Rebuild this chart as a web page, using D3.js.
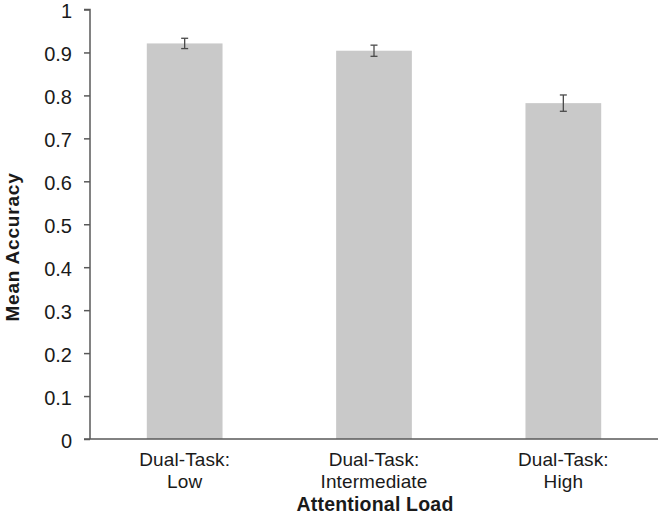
<!DOCTYPE html>
<html>
<head>
<meta charset="utf-8">
<script src="https://cdn.jsdelivr.net/npm/d3@7"></script>
<style>
  body { margin: 0; background: #fff; }
  text { font-family: "Liberation Sans", Arial, sans-serif; fill: #1a1a1a; }
</style>
</head>
<body>
<svg id="chart" width="662" height="515"></svg>
<script>
const categories = ['Dual-Task:\nLow', 'Dual-Task:\nIntermediate', 'Dual-Task:\nHigh'];
const means = [0.921, 0.904, 0.782];
const errors = [0.012, 0.013, 0.019];
const yTicks = [0, 0.1, 0.2, 0.3, 0.4, 0.5, 0.6, 0.7, 0.8, 0.9, 1];

const data = categories.map((c, i) => ({ cat: c, mean: means[i], err: errors[i] }));

const svg = d3.select('#chart');
const mLeft = 90, mRight = 658, mTop = 9.5, mBottom = 439;

const x = d3.scaleBand()
  .domain(categories)
  .range([mLeft, mRight])
  .paddingInner(0.6)
  .paddingOuter(0.3);

const y = d3.scaleLinear().domain([0, 1]).range([mBottom, mTop]);

// bars
svg.append('g')
  .selectAll('rect')
  .data(data)
  .enter()
  .append('rect')
  .attr('x', d => x(d.cat))
  .attr('y', d => y(d.mean))
  .attr('width', x.bandwidth())
  .attr('height', d => y(0) - y(d.mean))
  .attr('fill', '#c9c9c9');

// error bars
const eb = svg.append('g')
  .attr('stroke', '#4a4a4a')
  .attr('stroke-width', 1.3)
  .selectAll('g')
  .data(data)
  .enter()
  .append('g');

eb.append('line')
  .attr('x1', d => x(d.cat) + x.bandwidth() / 2)
  .attr('x2', d => x(d.cat) + x.bandwidth() / 2)
  .attr('y1', d => y(d.mean + d.err))
  .attr('y2', d => y(d.mean - d.err));

[1, -1].forEach(s => {
  eb.append('line')
    .attr('x1', d => x(d.cat) + x.bandwidth() / 2 - 3.5)
    .attr('x2', d => x(d.cat) + x.bandwidth() / 2 + 3.5)
    .attr('y1', d => y(d.mean + s * d.err))
    .attr('y2', d => y(d.mean + s * d.err));
});

// y axis
const yAxis = svg.append('g')
  .attr('transform', `translate(${mLeft},0)`)
  .call(d3.axisLeft(y).tickValues(yTicks).tickSize(6).tickPadding(12).tickFormat(d => d === 0 || d === 1 ? d : d.toFixed(1)));
yAxis.select('.domain').attr('stroke', '#595959').attr('stroke-width', 1.5).attr('d', `M-6,${mTop}H0V${mBottom}`);
yAxis.selectAll('.tick line').attr('stroke', '#595959').attr('stroke-width', 1.5);
yAxis.selectAll('.tick text')
  .attr('font-size', 20)
  .attr('dy', '0.4em')
  .attr('fill', '#1a1a1a')
  .attr('font-family', '"Liberation Sans", Arial, sans-serif');

// x axis
svg.append('line')
  .attr('x1', mLeft - 6).attr('x2', mRight)
  .attr('y1', mBottom).attr('y2', mBottom)
  .attr('stroke', '#595959').attr('stroke-width', 1.5);

const xl = svg.append('g')
  .selectAll('text')
  .data(categories)
  .enter()
  .append('text')
  .attr('text-anchor', 'middle')
  .attr('font-size', 19)
  .attr('letter-spacing', 0.1)
  .attr('x', d => x(d) + x.bandwidth() / 2)
  .attr('y', 465.5);

xl.selectAll('tspan')
  .data(d => d.split('\n').map(t => ({ t, x: x(d) + x.bandwidth() / 2 })))
  .enter()
  .append('tspan')
  .attr('x', d => d.x)
  .attr('dy', (d, i) => i === 0 ? 0 : 22)
  .text(d => d.t);

// axis titles
svg.append('text')
  .attr('x', (mLeft + mRight) / 2 + 1)
  .attr('y', 511)
  .attr('text-anchor', 'middle')
  .attr('font-size', 19.5)
  .attr('font-weight', 'bold')
  .attr('letter-spacing', 0.2)
  .text('Attentional Load');

svg.append('text')
  .attr('transform', `translate(19,247) rotate(-90)`)
  .attr('text-anchor', 'middle')
  .attr('font-size', 19)
  .attr('font-weight', 'bold')
  .attr('letter-spacing', 0.8)
  .text('Mean Accuracy');
</script>
</body>
</html>
